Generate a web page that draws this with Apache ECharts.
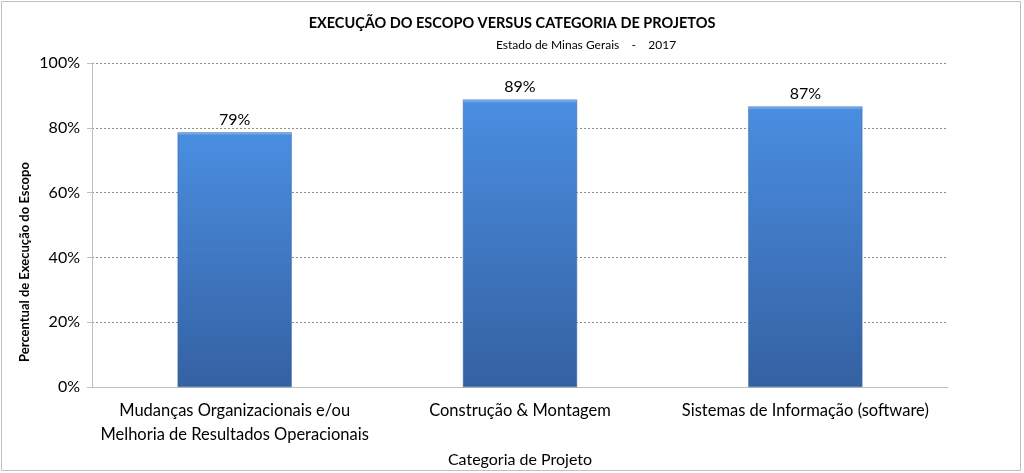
<!DOCTYPE html>
<html><head><meta charset="utf-8">
<script src="https://cdn.jsdelivr.net/npm/echarts@6/dist/echarts.min.js"></script>
<style>html,body{margin:0;padding:0;background:#fff}#c{width:1024px;height:473px}</style>
</head><body><div id="c"></div>
<script>
const categories = ['Mudanças Organizacionais e/ou\nMelhoria de Resultados Operacionais', 'Construção & Montagem', 'Sistemas de Informação (software)'];
const values = [78.6, 88.7, 86.6];
const yTicks = [0, 20, 40, 60, 80, 100];

const FONT = 'Lato, "Open Sans", sans-serif';
const chart = echarts.init(document.getElementById('c'));
chart.setOption({
  animation: false,
  textStyle: { fontFamily: FONT },
  title: [
    { text: 'EXECUÇÃO DO ESCOPO VERSUS CATEGORIA DE PROJETOS', left: 'center', top: 11,
      textStyle: { fontSize: 14.5, fontWeight: 'bold', color: '#000', fontFamily: FONT } },
    { text: 'Estado de Minas Gerais    -    2017', left: 491, top: 34,
      textStyle: { fontSize: 12, fontWeight: 'normal', color: '#000', fontFamily: FONT } }
  ],
  graphic: [
    { type: 'rect', shape: { x: 1.5, y: 1.5, width: 1019, height: 469 }, style: { fill: 'none', stroke: '#bfbfbf', lineWidth: 1 }, silent: true },
    { type: 'text', x: 25, y: 262, rotation: Math.PI / 2,
      style: { text: 'Percentual de Execução do Escopo', fontSize: 13, fontWeight: 'bold', fill: '#000', fontFamily: FONT, align: 'center', verticalAlign: 'middle' } }
  ],
  grid: { left: 92, right: 76, top: 63, bottom: 84, containLabel: false },
  xAxis: {
    type: 'category', data: categories,
    name: 'Categoria de Projeto', nameLocation: 'middle', nameGap: 64,
    nameTextStyle: { fontSize: 16, color: '#000', fontFamily: FONT },
    axisLine: { lineStyle: { color: '#bfbfbf' } },
    axisTick: { show: false },
    axisLabel: { fontSize: 16.5, color: '#000', lineHeight: 24, margin: 12, interval: 0, fontFamily: FONT }
  },
  yAxis: {
    type: 'value', min: 0, max: 100, interval: 20,
    axisLine: { show: true, lineStyle: { color: '#bfbfbf' } },
    axisTick: { show: true, length: 5, lineStyle: { color: '#bfbfbf' } },
    axisLabel: { fontSize: 16, color: '#000', formatter: v => yTicks.includes(v) ? v + '%' : '', margin: 12, fontFamily: FONT },
    splitLine: { lineStyle: { color: '#8c8c8c', type: [2, 2] } }
  },
  series: [{
    type: 'bar', data: values, barWidth: '40%',
    itemStyle: {
      color: new echarts.graphic.LinearGradient(0, 0, 0, 1, [
        { offset: 0, color: '#8fc0ef' },
        { offset: 0.012, color: '#4a8de0' },
        { offset: 1, color: '#3461a2' }
      ]),
      borderColor: '#3a6aa8', borderWidth: 0.5
    },
    label: { show: true, position: 'top', distance: 5, fontSize: 16, color: '#000', fontFamily: FONT,
      formatter: p => Math.round(p.value) + '%' }
  }]
});
</script></body></html>
